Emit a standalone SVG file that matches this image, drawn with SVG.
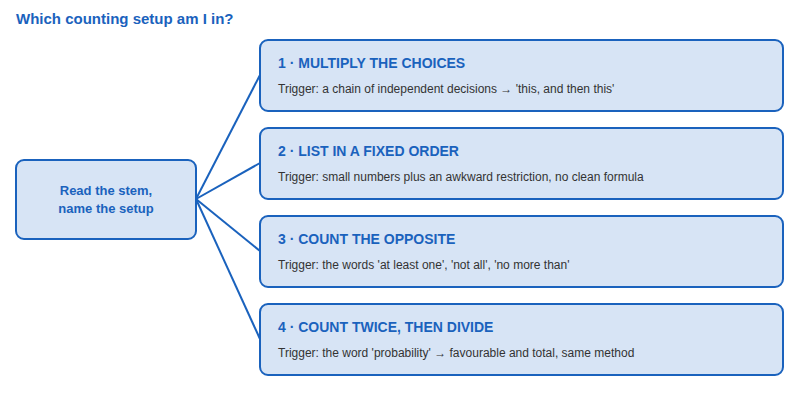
<svg xmlns="http://www.w3.org/2000/svg" width="800" height="400" viewBox="0 0 800 400">
<style>
.box{fill:#d7e4f5;stroke:#1a62bd;stroke-width:2}
.h{font-family:"Liberation Sans",Arial,sans-serif;font-weight:bold;font-size:14px;fill:#1a62bd}
.t{font-family:"Liberation Sans",Arial,sans-serif;font-size:12px;fill:#333}
.c{stroke:#1a62bd;stroke-width:2;fill:none}
</style>
<rect width="800" height="400" fill="#fff"/>
<text x="16" y="24" class="h" style="font-size:15px">Which counting setup am I in?</text>
<g id="connectors">
<line class="c" x1="196" y1="199" x2="260" y2="75"/>
<line class="c" x1="196" y1="199" x2="260" y2="163"/>
<line class="c" x1="196" y1="199" x2="260" y2="251"/>
<line class="c" x1="196" y1="199" x2="260" y2="339"/>
</g>
<g id="root"><rect class="box" x="16" y="160" width="180" height="79" rx="8"/>
<text x="106" y="195" class="h" text-anchor="middle" style="font-size:13px">Read the stem,</text>
<text x="106" y="213" class="h" text-anchor="middle" style="font-size:13px">name the setup</text></g>
<g id="n1"><rect class="box" x="260" y="40" width="523" height="71" rx="8"/>
<text x="278" y="68" class="h">1 · MULTIPLY THE CHOICES</text>
<text x="278" y="93" class="t">Trigger: a chain of independent decisions → 'this, and then this'</text></g>
<g id="n2"><rect class="box" x="260" y="128" width="523" height="71" rx="8"/>
<text x="278" y="156" class="h">2 · LIST IN A FIXED ORDER</text>
<text x="278" y="181" class="t">Trigger: small numbers plus an awkward restriction, no clean formula</text></g>
<g id="n3"><rect class="box" x="260" y="216" width="523" height="71" rx="8"/>
<text x="278" y="244" class="h">3 · COUNT THE OPPOSITE</text>
<text x="278" y="269" class="t">Trigger: the words 'at least one', 'not all', 'no more than'</text></g>
<g id="n4"><rect class="box" x="260" y="304" width="523" height="71" rx="8"/>
<text x="278" y="332" class="h">4 · COUNT TWICE, THEN DIVIDE</text>
<text x="278" y="357" class="t">Trigger: the word 'probability' → favourable and total, same method</text></g>
</svg>
